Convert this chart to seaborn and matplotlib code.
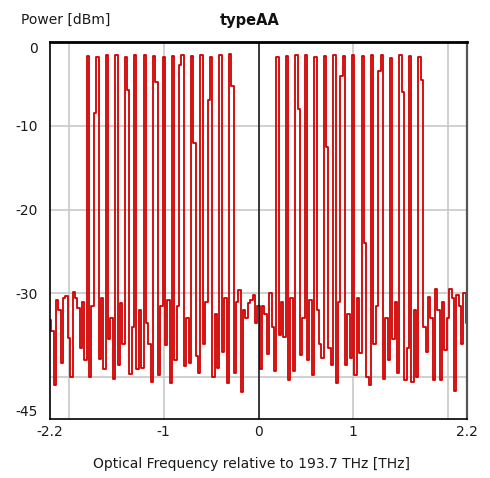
import numpy as np
import pandas as pd
import matplotlib
matplotlib.use("Agg")
import matplotlib.pyplot as plt
import seaborn as sns

# ---- spectrum samples (dBm), 0.025 THz spacing from -2.2 to 2.2 THz ----
# noise floor left of the first channel block (-2.200 ... -1.850 THz)
noise_left = [-33.2, -34.5, -41.0, -30.8, -32.0, -38.3, -30.6, -30.3,
              -35.3, -40.0, -29.8, -30.6, -31.8, -36.5, -31.0]

# first channel block, -1.8 ... -0.3 THz; each row: f-0.025, f, f+0.025, f+0.05
block_left = [
    [-38.0, -1.7, -40.0, -31.5],   # -1.8
    [-8.5, -1.8, -37.8, -30.6],    # -1.7
    [-39.0, -1.6, -35.5, -33.0],   # -1.6
    [-40.2, -1.5, -38.6, -31.2],   # -1.5
    [-36.0, -1.8, -5.7, -39.6],    # -1.4
    [-34.0, -1.6, -39.0, -32.0],   # -1.3
    [-38.9, -1.6, -33.5, -36.0],   # -1.2
    [-40.6, -1.7, -4.8, -39.8],    # -1.1
    [-31.5, -1.8, -36.2, -30.8],   # -1.0
    [-40.7, -1.7, -38.0, -31.5],   # -0.9
    [-2.8, -1.6, -38.7, -33.0],    # -0.8
    [-38.3, -1.7, -12.0, -37.5],   # -0.7
    [-39.5, -1.5, -36.0, -31.0],   # -0.6
    [-6.9, -1.8, -40.0, -32.5],    # -0.5
    [-38.9, -1.5, -37.0, -30.5],   # -0.4
    [-40.7, -1.4, -5.2, -39.5],    # -0.3
]

# gap between the two channel blocks (-0.225 ... 0.150 THz)
noise_mid = [-31.0, -29.6, -41.8, -32.0, -33.0, -31.2, -30.8, -30.2,
             -33.5, -31.5, -39.0, -31.5, -32.5, -37.3, -30.0, -34.0]

# second channel block, 0.2 ... 1.7 THz
block_right = [
    [-39.3, -1.8, -35.0, -31.0],   # 0.2
    [-35.2, -1.7, -40.3, -30.5],   # 0.3
    [-39.3, -1.6, -8.0, -37.4],    # 0.4
    [-33.0, -1.5, -37.9, -30.8],   # 0.5
    [-39.7, -1.8, -32.0, -36.0],   # 0.6
    [-37.7, -1.7, -12.5, -36.5],   # 0.7
    [-38.6, -1.5, -40.7, -31.0],   # 0.8
    [-4.0, -1.7, -38.6, -32.5],    # 0.9
    [-37.7, -1.6, -39.7, -30.6],   # 1.0
    [-37.1, -1.7, -24.0, -40.0],   # 1.1
    [-41.0, -1.6, -36.0, -31.5],   # 1.2
    [-3.5, -1.6, -40.2, -33.0],    # 1.3
    [-38.0, -1.9, -35.5, -31.0],   # 1.4
    [-39.5, -1.5, -6.0, -40.3],    # 1.5
    [-36.5, -1.7, -40.6, -32.0],   # 1.6
    [-40.0, -1.8, -4.5, -34.0],    # 1.7
]

# noise floor right of the second block (1.775 ... 2.200 THz)
noise_right = [-37.0, -30.4, -33.0, -40.3, -29.5, -32.0, -40.3, -31.0, -36.8,
               -33.0, -29.5, -30.5, -41.6, -30.2, -31.5, -36.0, -30.0, -33.5]

x_ticks = [-2, -1, 0, 1, 2]
x_tick_labels = ["", "-1", "0", "1", ""]
x_edge_ticks = [-2.2, 2.2]
x_edge_labels = ["-2.2", "2.2"]
y_ticks = [0, -10, -20, -30, -40]
y_tick_labels = ["0", "-10", "-20", "-30", ""]
y_edge_tick = -45
y_edge_label = "-45"

title = "typeAA"
y_title = "Power [dBm]"
x_title = "Optical Frequency relative to 193.7 THz [THz]"

# ---- assemble the trace ----
power = (noise_left + [v for row in block_left for v in row] + noise_mid
         + [v for row in block_right for v in row] + noise_right)
freq = np.linspace(-2.2, 2.2, len(power))
df = pd.DataFrame({"freq": freq, "power": power})

sns.set_style("white")
plt.rcParams["font.family"] = ["DejaVu Sans"]

fig = plt.figure(figsize=(4.9, 4.78), dpi=100)
ax = fig.add_axes([50 / 490, 1 - 419 / 478, 417 / 490, 377 / 478])

sns.lineplot(data=df, x="freq", y="power", estimator=None, ax=ax,
             color="#d00000", linewidth=1.3, drawstyle="steps-mid", zorder=2)

ax.set_xlim(-2.2, 2.2)
ax.set_ylim(-45, 0)

# grid and axis ticks
ax.set_xticks(x_ticks)
ax.set_xticklabels(x_tick_labels)
ax.set_xticks(x_edge_ticks, minor=True)
ax.set_xticklabels(x_edge_labels, minor=True)
ax.set_yticks(y_ticks)
ax.set_yticklabels(y_tick_labels)
ax.set_yticks([y_edge_tick], minor=True)
ax.set_yticklabels([y_edge_label], minor=True)

ax.grid(True, which="major", color="#c8c8c8", linewidth=1.2, zorder=0)
ax.set_axisbelow(True)
ax.axvline(0, color="#111111", linewidth=1.1, zorder=3)

ax.tick_params(which="major", direction="in", length=4, width=1.0,
               color="black", labelsize=10, labelcolor="#1a1a1a", pad=4)
ax.tick_params(axis="y", which="major", pad=9)
ax.tick_params(which="minor", length=0, labelsize=10, labelcolor="#1a1a1a", pad=4)
ax.tick_params(axis="y", which="minor", pad=9)

for lbl in ax.get_yticklabels():
    if lbl.get_text() == "0":
        lbl.set_verticalalignment("top")
for lbl in ax.get_yticklabels(minor=True):
    lbl.set_verticalalignment("bottom")

ax.set_xlabel("")
ax.set_ylabel("")

for side in ["left", "bottom"]:
    ax.spines[side].set_color("black")
    ax.spines[side].set_linewidth(1.2)
ax.spines["top"].set_color("black")
ax.spines["top"].set_linewidth(2.0)
ax.spines["right"].set_color("#555555")
ax.spines["right"].set_linewidth(1.6)
for s in ax.spines.values():
    s.set_zorder(4)

fig.text(21 / 490, 1 - 20 / 478, y_title, ha="left", va="center",
         fontsize=10, color="#1a1a1a")
fig.text(250 / 490, 1 - 20 / 478, title, ha="center", va="center",
         fontsize=10.5, fontweight="bold", color="#111111")
fig.text(251 / 490, 1 - 464 / 478, x_title, ha="center", va="center",
         fontsize=10, color="#1a1a1a")

fig.savefig("out.png", dpi=100, facecolor="white")
